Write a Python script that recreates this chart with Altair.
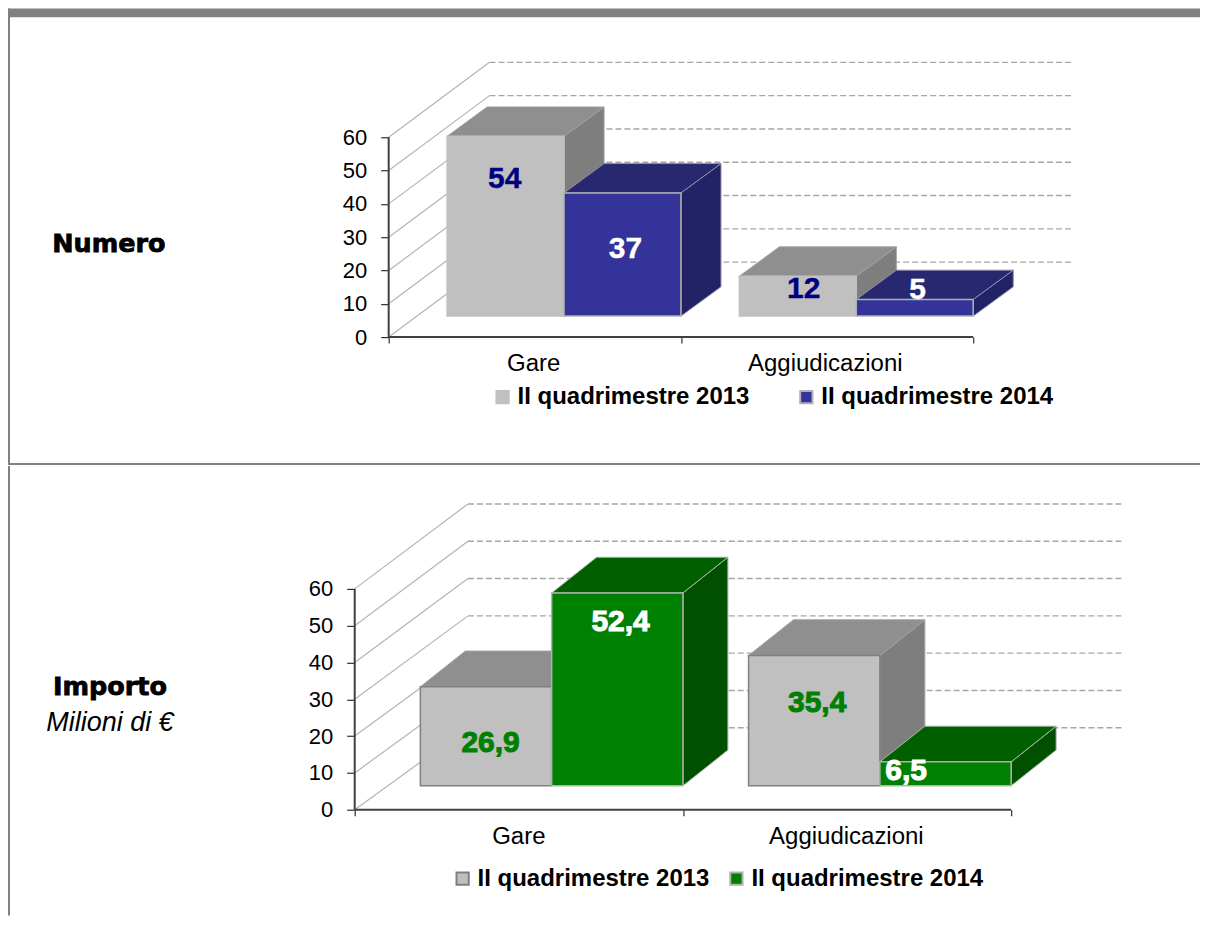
import altair as alt
import pandas as pd

CATEGORIES = ["Gare", "Aggiudicazioni"]
SERIES_TOP = ["II quadrimestre 2013", "II quadrimestre 2014"]
NUMERO_2013 = [54, 12]
NUMERO_2014 = [37, 5]
IMPORTO_2013 = [26.9, 35.4]
IMPORTO_2014 = [52.4, 6.5]
TICKS = [0, 10, 20, 30, 40, 50, 60]

FONT = "Liberation Sans"
W = 1193


def fmt(v):
    return str(v).replace(".", ",")


def panel(cfg):
    ux, uy = cfg["ux"], cfg["uy"]
    H = cfg["H"]
    xs = alt.Scale(domain=[-cfg["left"] / ux, (W - cfg["left"]) / ux], nice=False, zero=False)
    ys = alt.Scale(domain=[(cfg["base"] - H) / uy, cfg["base"] / uy], nice=False, zero=False)
    xaxis = alt.Axis(
        values=[0, 1, 2], labels=False, title=None, domain=False, grid=False,
        tickColor="#303030", tickSize=6, tickWidth=1.2, offset=-(H - cfg["base"]))
    yaxis = alt.Axis(
        values=TICKS, title=None, domain=False, grid=False, tickColor="#303030",
        tickSize=8, tickWidth=1.2, labelFont=FONT, labelFontSize=cfg["fs"], labelColor="#000000",
        labelPadding=14, offset=-cfg["left"])
    X = lambda f: alt.X(f, type="quantitative", scale=xs, axis=xaxis)
    Y = lambda f: alt.Y(f, type="quantitative", scale=ys, axis=yaxis)

    wall_dx = 0.345
    wall_dy, wall_k = cfg["wall_dy"], cfg["wall_k"]
    dx, dy = cfg["dx"], cfg["dy"]
    floor = cfg["floor"]
    starts = [0.2, 0.6, 1.2, 1.6]
    bw = 0.4

    layers = []
    # frame
    if cfg["header"]:
        layers.append(alt.Chart(pd.DataFrame({"a": [0]})).mark_rect(color="#808080").encode(
            x=alt.value(0), x2=alt.value(W), y=alt.value(0), y2=alt.value(9)))
        layers.append(alt.Chart(pd.DataFrame({"a": [0]})).mark_rule(color="#808080", strokeWidth=2).encode(
            x=alt.value(0), x2=alt.value(W), y=alt.value(H)))
    layers.append(alt.Chart(pd.DataFrame({"a": [0]})).mark_rule(color="#808080", strokeWidth=2).encode(
        x=alt.value(1), y=alt.value(0), y2=alt.value(H)))

    wall = pd.DataFrame({"t": TICKS, "x0": wall_dx, "x1": 2 + wall_dx})
    wall["y"] = wall["t"] * wall_k + wall_dy
    layers.append(alt.Chart(wall).mark_rule(color="#A6A6A6", strokeWidth=1.4, strokeDash=[6, 3]).encode(
        x=X("x0"), x2="x1:Q", y=Y("y")))

    diag = pd.DataFrame(
        [{"t": t, "x": 0.0, "y": t} for t in TICKS]
        + [{"t": t, "x": wall_dx, "y": t * wall_k + wall_dy} for t in TICKS]
    )
    layers.append(alt.Chart(diag).mark_line(color="#B4B4B4", strokeWidth=1.2).encode(
        x=X("x"), y=Y("y"), detail="t:N"))

    # axis lines
    layers.append(alt.Chart(pd.DataFrame({"x": [0.0], "y0": [0], "y1": [60]})).mark_rule(color="#404040", strokeWidth=2).encode(
        x=X("x"), y=Y("y0"), y2="y1:Q"))
    layers.append(alt.Chart(pd.DataFrame({"x0": [0.0], "x1": [2.0], "y": [0]})).mark_rule(color="#404040", strokeWidth=2).encode(
        x=X("x0"), x2="x1:Q", y=Y("y")))

    # bars
    names = SERIES_TOP
    fills = alt.Scale(domain=names, range=[cfg["front"][0], cfg["front"][1]])
    strokes = alt.Scale(domain=names, range=cfg["legend_stroke"])
    legend = alt.Legend(
        orient="none", legendX=cfg["lx"], legendY=cfg["ly"], direction="horizontal", columns=2,
        title=None, symbolType="square", symbolSize=150, symbolStrokeWidth=2, symbolOpacity=1,
        labelFont=FONT, labelFontSize=cfg["lfs"], labelFontWeight="bold", labelColor="#000000",
        labelLimit=400, columnPadding=cfg["lgap"], labelOffset=3, symbolOffset=0,
    )
    for s_i, vals in enumerate(cfg["values"]):
        top, side, edge = cfg["top"][s_i], cfg["side"][s_i], cfg["edge"][s_i]
        rows_f, rows_t, rows_s = [], [], []
        for c_i, v in enumerate(vals):
            xl = starts[c_i * 2 + s_i]
            xr = xl + bw
            t = floor + v
            rows_f.append({"series": names[s_i], "category": CATEGORIES[c_i], "xl": xl, "xr": xr, "y0": floor, "y1": t})
            rows_t += [
                {"b": c_i, "y": t, "xa": xl, "xb": xr},
                {"b": c_i, "y": t + dy, "xa": xl + dx, "xb": xr + dx},
            ]
            rows_s += [
                {"b": c_i, "x": xr, "ya": floor, "yb": t},
                {"b": c_i, "x": xr + dx, "ya": floor + dy, "yb": t + dy},
            ]
        layers.append(alt.Chart(pd.DataFrame(rows_s)).mark_area(color=side, stroke=edge, strokeWidth=1).encode(
            x=X("x"), y=Y("ya"), y2="yb:Q", detail="b:N"))
        layers.append(alt.Chart(pd.DataFrame(rows_t)).mark_area(orient="horizontal", color=top, stroke=edge, strokeWidth=1).encode(
            y=Y("y"), x=X("xa"), x2="xb:Q", detail="b:N"))
        layers.append(alt.Chart(pd.DataFrame(rows_f)).mark_rect(strokeWidth=1.5, opacity=1).encode(
            x=X("xl"), x2="xr:Q", y=Y("y0"), y2="y1:Q",
            fill=alt.Fill("series:N", scale=fills, legend=legend),
            stroke=alt.Stroke("series:N", scale=strokes, legend=legend),
        ))

    # value labels
    lab_rows = []
    for s_i, vals in enumerate(cfg["values"]):
        for c_i, v in enumerate(vals):
            px, py = cfg["lab_pos"][s_i][c_i]
            lab_rows.append({"t": fmt(v), "x": px, "y": py, "c": cfg["lab_col"][s_i]})
    layers.append(alt.Chart(pd.DataFrame(lab_rows)).mark_text(
        font=FONT, fontWeight="bold", fontSize=cfg["vfs"], strokeWidth=cfg["vsw"], baseline="middle", align="center"
    ).encode(
        x=X("x"), y=Y("y"), text="t:N",
        color=alt.Color("c:N", scale=None), stroke=alt.Stroke("c:N", scale=None),
    ))

    # category labels
    cat = pd.DataFrame({"c": CATEGORIES, "x": cfg["cat_x"], "y": cfg["cat_y"]})
    layers.append(alt.Chart(cat).mark_text(font=FONT, fontSize=cfg["cfs"], color="#000000", baseline="middle").encode(
        x=X("x"), y=Y("y"), text="c:N"))

    # side captions
    for txt, px, py, kw in cfg["captions"]:
        layers.append(alt.Chart(pd.DataFrame({"t": [txt]})).mark_text(baseline="middle", align="center", color="#000000", **kw).encode(
            x=alt.value(px), y=alt.value(py), text="t:N"))

    return alt.layer(*layers).properties(width=W, height=H)


BLACK = dict(font="DejaVu Sans", fontWeight="bold", fontSize=25.5, stroke="#000000", strokeWidth=0.8)
ITAL = dict(font=FONT, fontStyle="italic", fontSize=27)

top_panel = panel(dict(
    H=456, left=381, base=329, ux=292.5, uy=200 / 60,
    dx=0.137, dy=8.8, floor=6.3, wall_dy=22.5, wall_k=1.0,
    values=[NUMERO_2013, NUMERO_2014],
    front=["#C0C0C0", "#333399"], top=["#8F8F8F", "#282870"], side=["#7E7E7E", "#222266"],
    edge=["#A0A0A0", "#8C8CA8"], legend_stroke=["#C0C0C0", "#B0B0B0"],
    lab_pos=[[(0.397, 47.4), (1.42, 14.4)], [(0.81, 26.4), (1.81, 14.1)]],
    lab_col=["#000080", "#FFFFFF"],
    cat_x=[0.496, 1.494], cat_y=[-8.1, -8.1],
    lx=483, ly=377, lgap=44, fs=22, cfs=24, lfs=24, vfs=30, vsw=0.4,
    captions=[("Numero", 101, 236, BLACK)], header=True,
))
bottom_panel = panel(dict(
    H=450, left=347, base=344, ux=328.5, uy=221 / 60,
    dx=0.137, dy=9.7, floor=6.5, wall_dy=22.26, wall_k=1.0137,
    values=[IMPORTO_2013, IMPORTO_2014],
    front=["#C0C0C0", "#008000"], top=["#8F8F8F", "#006000"], side=["#7E7E7E", "#005000"],
    edge=["#A0A0A0", "#A8B8A8"], legend_stroke=["#808080", "#B0B0B0"],
    lab_pos=[[(0.414, 18.2), (1.409, 29.05)], [(0.81, 51.0), (1.68, 10.6)]],
    lab_col=["#008000", "#FFFFFF"],
    cat_x=[0.5, 1.498], cat_y=[-7.3, -7.3],
    lx=443, ly=401, lgap=14, fs=22, cfs=24, lfs=24, vfs=30, vsw=1.0,
    captions=[("Importo", 102, 221, BLACK), ("Milioni di €", 102, 257, ITAL)], header=False,
))

chart = (
    alt.vconcat(top_panel, bottom_panel, spacing=0)
    .resolve_scale(fill="independent", stroke="independent")
    .properties(padding={"left": -1, "top": -1, "right": 0, "bottom": 0})
    .configure_view(stroke=None)
)
chart.save("out.html", embed_options={"renderer": "svg", "actions": False})
